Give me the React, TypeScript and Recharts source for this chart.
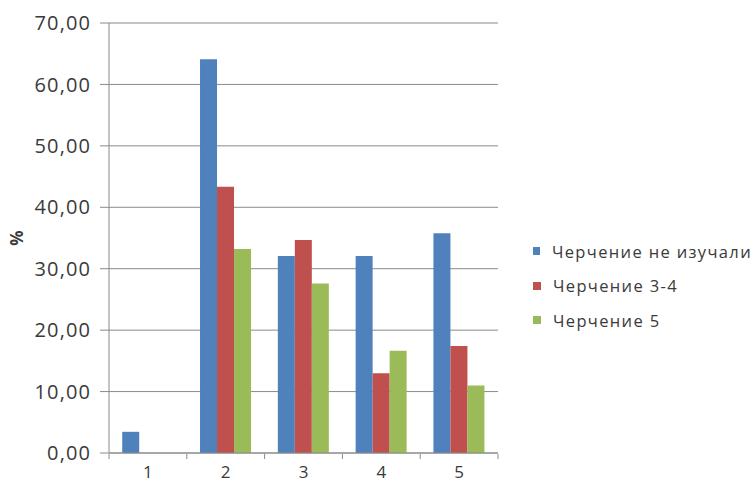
import React from 'react';
import { BarChart, Bar, XAxis, YAxis, CartesianGrid, Legend, Label } from 'recharts';

const categories = ['1', '2', '3', '4', '5'];
const notStudied = [3.45, 64.1, 32.07, 32.07, 35.76];
const grade34 = [0, 43.35, 34.67, 12.97, 17.4];
const grade5 = [0, 33.2, 27.6, 16.65, 11.0];
const seriesNames = ['Черчение не изучали', 'Черчение 3-4', 'Черчение 5'];
const seriesColors = ['#4F81BD', '#C0504D', '#9BBB59'];
const yTicks = [0, 10, 20, 30, 40, 50, 60, 70];
const boundaryTicks = [0, 1, 2, 3, 4, 5];

const data = categories.map((c, i) => ({
  cat: c,
  a: notStudied[i],
  b: grade34[i],
  c: grade5[i],
  pos: i + 0.5,
}));

const FONT = '"Open Sans", sans-serif';
const TEXT = '#3a3a3a';
const LEGEND_W = 219;

const LegendContent = () => (
  <div style={{ fontFamily: FONT, fontSize: 16.5, letterSpacing: 1.35, color: TEXT }}>
    {seriesNames.map((n, i) => (
      <div key={n} style={{ display: 'flex', alignItems: 'center', height: 34.5, whiteSpace: 'nowrap' }}>
        <span style={{ display: 'inline-block', width: 8, height: 8, background: seriesColors[i], marginRight: 12 }} />
        <span>{n}</span>
      </div>
    ))}
  </div>
);

const YLabel = (props: any) => {
  const vb = props.viewBox || { x: 0, y: 0, width: 0, height: 0 };
  const cx = vb.x + 16;
  const cy = vb.y + vb.height / 2;
  return (
    <text
      x={cx}
      y={cy}
      transform={`rotate(-90 ${cx} ${cy})`}
      textAnchor="middle"
      dominantBaseline="central"
      fill={TEXT}
      fontSize={17}
      fontFamily={FONT}
      fontWeight="bold"
    >
      %
    </text>
  );
};

const EmptyTick = () => <g />;

export default function App() {
  return (
    <div style={{ position: 'absolute', left: 0, top: 0, width: 752, height: 487, background: '#fff' }}>
      <BarChart
        width={752}
        height={487}
        data={data}
        margin={{ top: 23, right: 254 - LEGEND_W, left: 0, bottom: 4 }}
        barCategoryGap="17%"
        barGap={0}
      >
        <CartesianGrid vertical={false} stroke="#8a8a8a" strokeWidth={1} />
        <XAxis
          xAxisId="cat"
          dataKey="cat"
          height={1}
          tickLine={false}
          axisLine={{ stroke: '#8a8a8a' }}
          tick={{ fill: TEXT, fontSize: 17, fontFamily: FONT }}
          tickMargin={7}
        />
        <XAxis
          xAxisId="edges"
          type="number"
          dataKey="pos"
          domain={[0, 5]}
          allowDataOverflow
          ticks={boundaryTicks}
          interval={0}
          height={29}
          axisLine={false}
          tickLine={{ stroke: '#8a8a8a' }}
          tickSize={5}
          tick={<EmptyTick />}
        />
        <YAxis
          width={109}
          domain={[0, 70]}
          ticks={yTicks}
          tickFormatter={(v: number) => v.toFixed(2).replace('.', ',')}
          axisLine={{ stroke: '#8a8a8a' }}
          tickLine={{ stroke: '#8a8a8a' }}
          tickSize={9}
          tickMargin={9}
          tick={{ fill: TEXT, fontSize: 20, fontFamily: FONT, letterSpacing: 1.1 }}
        >
          <Label content={<YLabel />} />
        </YAxis>
        <Legend
          layout="vertical"
          align="right"
          verticalAlign="middle"
          content={<LegendContent />}
          wrapperStyle={{ left: 533, top: 234, width: LEGEND_W }}
        />
        <Bar xAxisId="cat" dataKey="a" name={seriesNames[0]} fill={seriesColors[0]} isAnimationActive={false} />
        <Bar xAxisId="cat" dataKey="b" name={seriesNames[1]} fill={seriesColors[1]} isAnimationActive={false} />
        <Bar xAxisId="cat" dataKey="c" name={seriesNames[2]} fill={seriesColors[2]} isAnimationActive={false} />
      </BarChart>
    </div>
  );
}
